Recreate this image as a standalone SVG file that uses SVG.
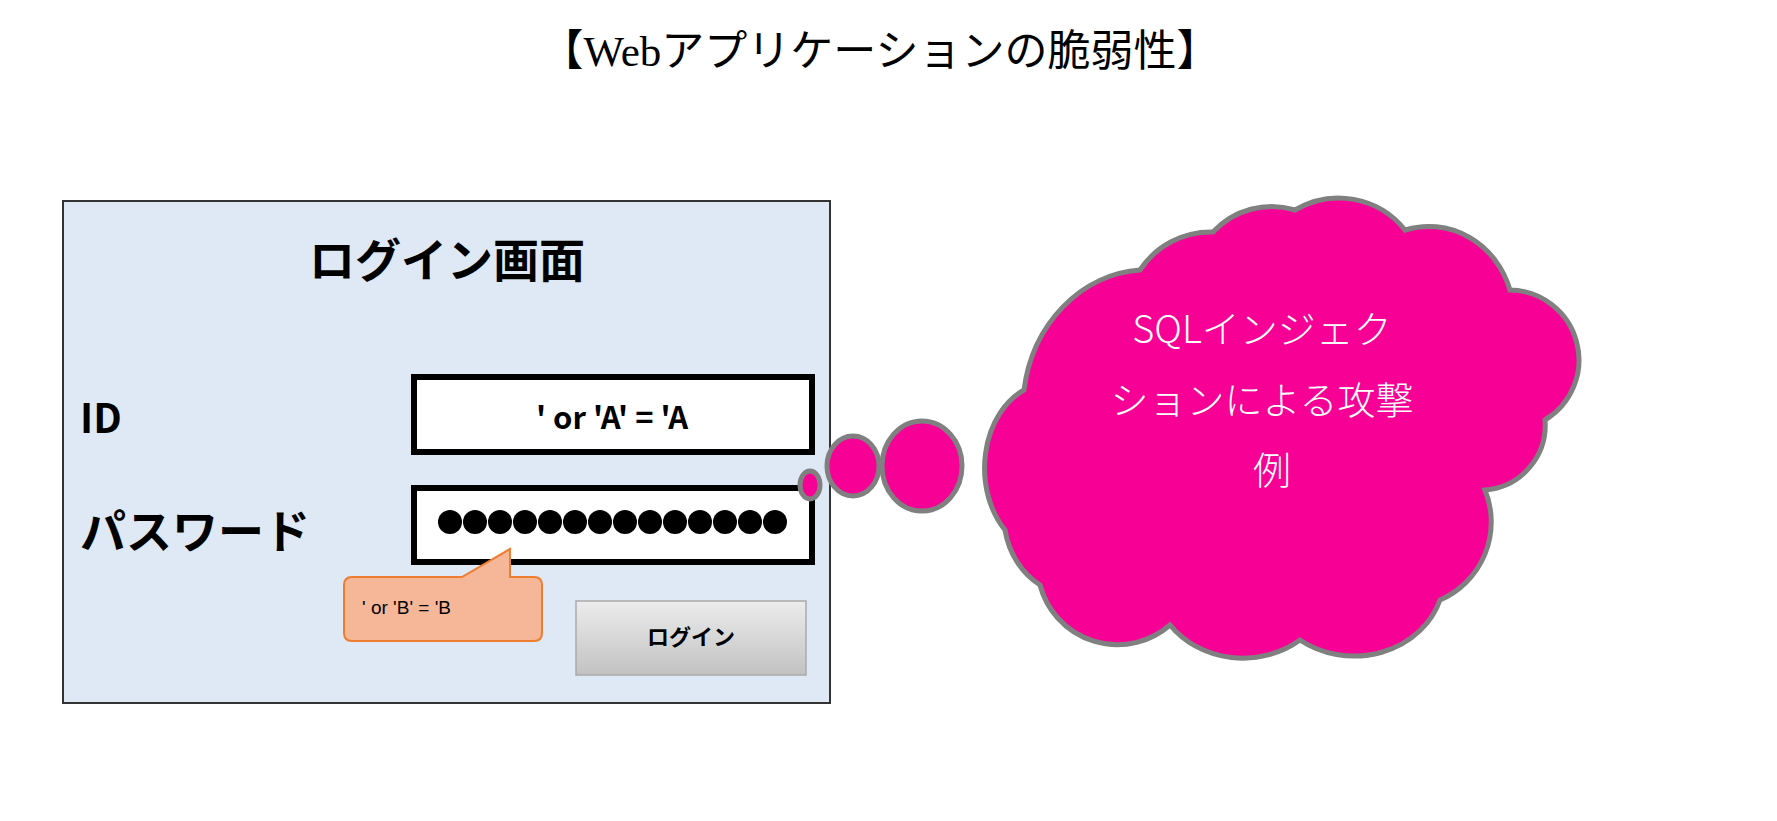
<svg xmlns="http://www.w3.org/2000/svg" width="1777" height="821" viewBox="0 0 1777 821">
<defs>
<linearGradient id="btn" x1="0" y1="0" x2="0" y2="1"><stop offset="0" stop-color="#ececec"/><stop offset="1" stop-color="#c2c2c2"/></linearGradient>
<style>
.b{font-family:"Noto Sans CJK JP","Liberation Sans",sans-serif;font-weight:bold;fill:#000}
.pink{fill:#f70096;stroke:#808080;stroke-width:5}
.field{fill:#fff;stroke:#000;stroke-width:6}
.w{font-family:"Noto Sans CJK JP",sans-serif;font-size:38px;fill:#fff;text-anchor:middle;font-weight:300}
</style>
</defs>
<rect width="1777" height="821" fill="#fff"/>
<text x="880" y="66" text-anchor="middle" font-family="'Liberation Serif','Noto Sans CJK JP',serif" font-size="43">【Webアプリケーションの脆弱性】</text>
<g id="login">
<rect x="63" y="201" width="767" height="502" fill="#dee9f5" stroke="#333" stroke-width="2"/>
<text class="b" x="447" y="277" font-size="46" text-anchor="middle">ログイン画面</text>
<text class="b" x="80" y="433" font-size="40">ID</text>
<text class="b" x="80" y="548" font-size="46">パスワード</text>
</g>
<g id="idfield">
<rect class="field" x="414" y="377" width="398" height="75"/>
<text class="b" x="612" y="429" font-size="31" text-anchor="middle" font-family="'Liberation Sans',sans-serif">' or 'A' = 'A</text>
</g>
<g id="pwfield">
<rect class="field" x="414" y="488" width="398" height="74"/>
<g fill="#000">
<circle cx="450" cy="522" r="12"/><circle cx="475" cy="522" r="12"/><circle cx="500" cy="522" r="12"/><circle cx="525" cy="522" r="12"/><circle cx="550" cy="522" r="12"/><circle cx="575" cy="522" r="12"/><circle cx="600" cy="522" r="12"/><circle cx="625" cy="522" r="12"/><circle cx="650" cy="522" r="12"/><circle cx="675" cy="522" r="12"/><circle cx="700" cy="522" r="12"/><circle cx="725" cy="522" r="12"/><circle cx="750" cy="522" r="12"/><circle cx="775" cy="522" r="12"/>
</g>
</g>
<g id="callout">
<path d="M352,577 H462 L510,549 V577 H534 Q542,577 542,585 V633 Q542,641 534,641 H352 Q344,641 344,633 V585 Q344,577 352,577 Z" fill="#f6b799" stroke="#ed7d31" stroke-width="2"/>
<text x="362" y="614" font-family="'Liberation Sans',sans-serif" font-size="19">' or 'B' = 'B</text>
</g>
<g id="button">
<rect x="576" y="601" width="230" height="74" fill="url(#btn)" stroke="#aaa" stroke-width="1.5"/>
<text class="b" x="691" y="645" font-size="22" text-anchor="middle">ログイン</text>
</g>
<g id="cloud">
<ellipse class="pink" cx="810" cy="485" rx="10" ry="14"/>
<ellipse class="pink" cx="853" cy="466" rx="26" ry="30"/>
<ellipse class="pink" cx="922" cy="466" rx="40" ry="45"/>
<path class="pink" d="M1024,390 A125,140 0 0 1 1140,270 A85,85 0 0 1 1213,232 A80,80 0 0 1 1295,210 A85,85 0 0 1 1405,230 A85,90 0 0 1 1510,290 A70,70 0 0 1 1545,420 A65,65 0 0 1 1485,490 A85,85 0 0 1 1440,600 A90,80 0 0 1 1300,640 A90,80 0 0 1 1170,625 A80,80 0 0 1 1040,585 A70,80 0 0 1 1005,530 A65,85 0 0 1 1024,390 Z"/>
<text class="w" x="1262" y="343">SQLインジェク</text>
<text class="w" x="1262" y="414">ションによる攻撃</text>
<text class="w" x="1272" y="484">例</text>
</g>
<g id="connectors"/>
</svg>
